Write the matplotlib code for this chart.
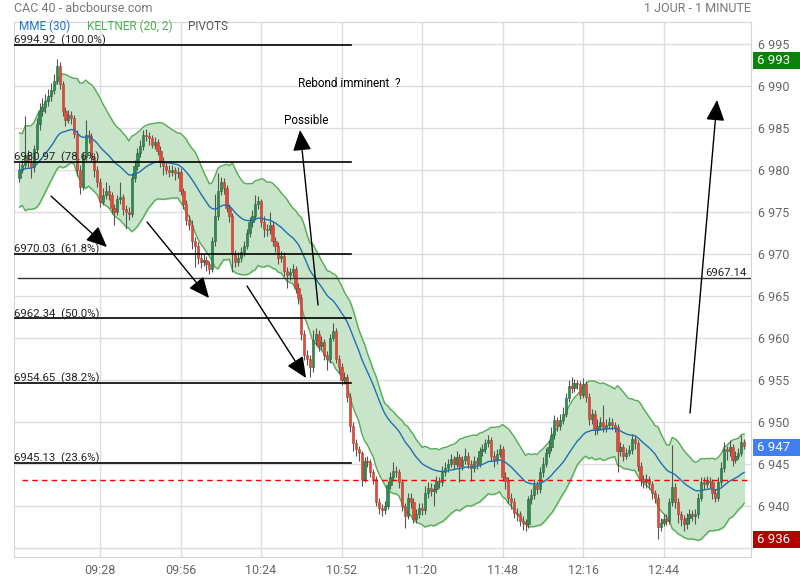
import numpy as np
import pandas as pd
import matplotlib.pyplot as plt
from matplotlib.patches import Rectangle
import matplotlib.transforms as mtransforms

plt.rcParams['font.family'] = ['Roboto', 'DejaVu Sans']

# 1-minute candles from 09:00 (index = minutes after 09:00)
first_open = 6979.0
close = [
    6980.0, 6980.6, 6981.8, 6981.0, 6980.3, 6982.5, 6985.5, 6987.0, 6987.5, 6988.2,
    6988.8, 6989.5, 6990.6, 6992.4, 6990.2, 6987.0, 6986.0, 6986.5, 6986.2, 6984.3,
    6980.0, 6978.0, 6981.5, 6984.2, 6984.0, 6981.5, 6980.0, 6978.6, 6976.2, 6977.0,
    6977.5, 6977.0, 6975.5, 6975.0, 6976.5, 6976.8, 6975.3, 6975.0, 6974.8, 6979.0,
    6980.5, 6982.0, 6982.8, 6984.2, 6984.0, 6983.8, 6983.0, 6983.3, 6982.3, 6981.0,
    6980.5, 6980.0, 6979.8, 6980.0, 6979.6, 6979.8, 6977.5, 6976.0, 6974.0, 6973.5,
    6971.5, 6971.0, 6969.5, 6969.0, 6969.3, 6968.8, 6968.2, 6971.5, 6974.5, 6977.5,
    6978.6, 6977.9, 6975.5, 6974.5, 6970.0, 6969.0, 6969.5, 6970.2, 6971.0, 6972.5,
    6973.8, 6974.5, 6976.0, 6976.3, 6973.8, 6973.0, 6972.8, 6973.5, 6971.5, 6971.0,
    6969.5, 6969.8, 6968.0, 6967.5, 6967.8, 6968.2, 6966.0, 6964.8, 6960.5, 6958.0,
    6957.5, 6956.5, 6959.8, 6960.5, 6959.0, 6959.5, 6958.0, 6957.5, 6960.0, 6960.8,
    6957.5, 6956.5, 6955.0, 6955.3, 6953.0, 6949.5, 6947.5, 6946.8, 6946.3, 6943.2,
    6945.3, 6945.2, 6944.0, 6943.2, 6940.5, 6939.8, 6939.5, 6940.0, 6942.5, 6943.5,
    6944.2, 6944.0, 6942.8, 6940.0, 6938.8, 6941.0, 6940.5, 6938.5, 6939.0, 6939.8,
    6939.5, 6941.5, 6942.2, 6941.8, 6942.0, 6943.0, 6942.8, 6944.0, 6944.5, 6945.0,
    6945.6, 6945.0, 6945.8, 6944.8, 6945.5, 6946.0, 6945.0, 6944.5, 6945.3, 6945.0,
    6946.5, 6946.8, 6947.5, 6947.8, 6946.0, 6945.5, 6946.2, 6946.8, 6943.5, 6943.0,
    6941.0, 6940.5, 6939.2, 6939.0, 6938.2, 6938.0, 6937.8, 6940.8, 6941.3, 6942.5,
    6942.0, 6944.0, 6945.0, 6946.3, 6947.0, 6948.5, 6950.2, 6949.5, 6950.2, 6951.0,
    6952.8, 6954.3, 6954.0, 6954.6, 6954.5, 6953.2, 6954.5, 6953.0, 6950.3, 6951.0,
    6949.0, 6949.5, 6950.0, 6949.3, 6949.7, 6950.0, 6949.6, 6949.4, 6946.5, 6947.0,
    6946.0, 6946.3, 6946.7, 6948.0, 6947.5, 6944.8, 6943.2, 6942.8, 6943.2, 6942.6,
    6941.5, 6941.0, 6937.5, 6938.0, 6938.5, 6938.2, 6940.5, 6942.3, 6940.5, 6939.0,
    6938.5, 6937.8, 6938.6, 6939.0, 6938.8, 6939.0, 6941.0, 6942.8, 6942.6, 6943.0,
    6942.8, 6941.5, 6941.0, 6942.8, 6944.5, 6946.8, 6946.5, 6947.0, 6945.5, 6946.0,
    6946.3, 6947.6, 6947.2,
]
high = [
    6980.8, 6981.2, 6986.4, 6982.4, 6981.6, 6983.0, 6986.2, 6988.0, 6988.6, 6989.0,
    6989.6, 6990.4, 6991.4, 6993.2, 6992.8, 6990.6, 6987.5, 6987.2, 6987.0, 6986.6,
    6984.8, 6980.6, 6982.2, 6985.9, 6984.8, 6984.4, 6982.0, 6980.5, 6979.0, 6977.8,
    6978.6, 6978.2, 6977.4, 6976.0, 6977.0, 6978.6, 6977.2, 6975.8, 6975.6, 6979.6,
    6981.2, 6982.6, 6983.6, 6984.8, 6984.9, 6984.5, 6984.2, 6983.9, 6983.7, 6982.8,
    6981.5, 6981.0, 6980.6, 6980.6, 6980.4, 6980.4, 6980.2, 6977.9, 6976.4, 6974.6,
    6974.0, 6972.0, 6971.4, 6970.0, 6970.0, 6969.8, 6969.2, 6972.0, 6977.2, 6979.6,
    6979.2, 6979.0, 6978.2, 6976.0, 6974.9, 6970.5, 6970.2, 6970.8, 6971.6, 6973.0,
    6974.4, 6975.2, 6977.0, 6976.9, 6976.6, 6974.5, 6973.6, 6975.0, 6973.9, 6972.0,
    6971.4, 6970.4, 6970.2, 6968.5, 6968.3, 6968.8, 6968.6, 6966.5, 6965.2, 6961.0,
    6958.6, 6958.0, 6961.0, 6961.2, 6960.9, 6960.2, 6959.9, 6958.5, 6960.5, 6961.8,
    6961.2, 6958.0, 6957.0, 6955.9, 6955.7, 6953.4, 6950.0, 6948.0, 6947.2, 6946.6,
    6945.8, 6945.9, 6945.6, 6944.4, 6943.6, 6941.0, 6940.2, 6940.6, 6943.0, 6944.0,
    6945.2, 6944.8, 6944.4, 6943.2, 6940.4, 6941.6, 6941.5, 6940.9, 6939.6, 6940.4,
    6940.3, 6942.4, 6942.8, 6942.7, 6942.6, 6943.6, 6943.5, 6944.8, 6945.2, 6945.6,
    6946.2, 6946.0, 6946.6, 6946.2, 6946.0, 6946.9, 6946.4, 6945.5, 6945.9, 6945.8,
    6947.0, 6947.4, 6948.0, 6948.5, 6948.2, 6946.5, 6946.8, 6947.4, 6947.2, 6944.0,
    6943.4, 6941.5, 6940.9, 6939.8, 6939.4, 6938.8, 6938.5, 6941.2, 6942.0, 6943.2,
    6943.0, 6944.6, 6945.8, 6946.9, 6947.8, 6949.4, 6950.8, 6950.6, 6950.9, 6951.8,
    6953.5, 6955.0, 6955.3, 6955.1, 6955.0, 6954.9, 6955.2, 6954.9, 6953.4, 6951.6,
    6951.4, 6950.4, 6950.6, 6952.0, 6950.3, 6950.6, 6950.5, 6950.0, 6949.8, 6947.6,
    6947.4, 6946.9, 6947.3, 6948.6, 6948.4, 6947.9, 6945.2, 6943.7, 6943.8, 6943.6,
    6943.0, 6941.9, 6941.4, 6938.6, 6939.1, 6939.0, 6941.0, 6947.3, 6942.7, 6940.9,
    6939.4, 6938.9, 6939.2, 6939.6, 6939.5, 6939.6, 6941.6, 6943.4, 6943.4, 6943.6,
    6943.5, 6943.2, 6942.0, 6943.4, 6945.2, 6947.6, 6947.2, 6947.8, 6947.4, 6946.6,
    6946.9, 6948.4, 6948.0,
]
low = [
    6978.6, 6979.6, 6980.2, 6980.4, 6979.0, 6979.8, 6982.0, 6984.8, 6986.4, 6986.8,
    6987.6, 6988.2, 6989.0, 6990.2, 6989.6, 6986.4, 6985.2, 6985.6, 6985.5, 6983.8,
    6979.3, 6977.2, 6977.6, 6981.0, 6983.2, 6981.0, 6979.2, 6978.0, 6975.6, 6975.8,
    6976.5, 6976.4, 6974.8, 6973.5, 6974.6, 6976.0, 6974.6, 6973.0, 6974.0, 6974.4,
    6978.6, 6980.0, 6981.5, 6982.4, 6983.4, 6983.0, 6982.6, 6982.5, 6981.8, 6980.4,
    6979.4, 6979.5, 6979.2, 6979.3, 6978.8, 6979.1, 6977.0, 6975.4, 6973.4, 6972.8,
    6970.6, 6968.4, 6968.8, 6968.3, 6968.6, 6968.0, 6967.6, 6967.8, 6971.0, 6974.0,
    6977.0, 6977.2, 6975.0, 6973.8, 6967.9, 6968.4, 6968.6, 6969.0, 6969.8, 6970.6,
    6972.0, 6973.2, 6974.0, 6975.4, 6973.2, 6972.0, 6972.2, 6972.4, 6971.0, 6970.2,
    6968.8, 6969.0, 6967.4, 6966.0, 6966.9, 6967.3, 6965.4, 6964.0, 6959.8, 6957.4,
    6956.8, 6955.3, 6956.0, 6959.2, 6958.4, 6958.6, 6957.4, 6956.2, 6957.0, 6959.6,
    6957.0, 6955.8, 6954.4, 6954.5, 6952.4, 6948.8, 6946.6, 6946.0, 6945.4, 6942.4,
    6942.8, 6944.6, 6943.4, 6942.6, 6940.0, 6939.0, 6938.8, 6939.0, 6939.6, 6942.0,
    6943.0, 6943.4, 6942.2, 6939.4, 6937.4, 6938.4, 6939.8, 6938.0, 6938.0, 6938.6,
    6938.9, 6939.0, 6941.0, 6941.2, 6940.0, 6941.6, 6942.2, 6942.4, 6943.6, 6944.0,
    6944.6, 6944.4, 6944.6, 6942.8, 6944.3, 6945.0, 6944.5, 6943.0, 6944.0, 6944.4,
    6944.6, 6946.0, 6946.3, 6947.0, 6945.4, 6944.6, 6945.0, 6945.8, 6943.0, 6942.0,
    6940.4, 6939.6, 6938.6, 6938.2, 6937.6, 6937.2, 6937.0, 6937.4, 6940.2, 6940.8,
    6941.4, 6941.6, 6943.5, 6944.6, 6945.8, 6946.5, 6948.0, 6948.9, 6949.0, 6949.8,
    6950.6, 6952.4, 6953.4, 6953.6, 6953.9, 6952.7, 6952.8, 6952.4, 6949.6, 6949.8,
    6948.4, 6948.6, 6949.0, 6948.8, 6948.8, 6949.2, 6949.0, 6948.8, 6944.0, 6946.0,
    6945.4, 6945.6, 6945.9, 6946.2, 6946.8, 6944.2, 6942.4, 6942.2, 6942.2, 6942.0,
    6940.8, 6940.3, 6936.1, 6937.0, 6937.6, 6937.7, 6937.8, 6940.0, 6939.8, 6938.0,
    6937.6, 6937.0, 6937.3, 6937.8, 6938.2, 6937.8, 6938.6, 6940.6, 6942.0, 6942.1,
    6942.2, 6940.8, 6940.5, 6940.6, 6942.4, 6944.0, 6945.5, 6946.0, 6944.8, 6945.1,
    6945.6, 6945.9, 6946.8,
]

tick_minutes = [28, 56, 84, 112, 140, 168, 196, 224]
tick_labels = ["09:28", "09:56", "10:24", "10:52", "11:20", "11:48", "12:16", "12:44"]
price_ticks = [6935, 6940, 6945, 6950, 6955, 6960, 6965, 6970, 6975, 6980, 6985, 6990, 6995]

fib_levels = [6994.92, 6980.97, 6970.03, 6962.34, 6954.65, 6945.13]
fib_pcts = ["100.0%", "78.6%", "61.8%", "50.0%", "38.2%", "23.6%"]
pivot_level = 6967.14
ref_level = 6943.05
day_high, last_price, day_low = 6993, 6947, 6936

df = pd.DataFrame({"close": close, "high": high, "low": low})
df["open"] = df["close"].shift(1).fillna(first_open)
t = np.arange(len(df))

# indicators
ema30 = df["close"].ewm(span=30, adjust=False).mean()
kc_mid = df["close"].ewm(span=20, adjust=False).mean()
prev_c = df["close"].shift(1).fillna(first_open)
tr = pd.concat([df["high"] - df["low"],
                (df["high"] - prev_c).abs(),
                (df["low"] - prev_c).abs()], axis=1).max(axis=1)
atr = tr.ewm(span=20, adjust=False).mean()
kc_up = kc_mid + 2 * atr
kc_dn = kc_mid - 2 * atr

fig = plt.figure(figsize=(8, 5.8), dpi=100)
ax = fig.add_axes([14 / 800, 1 - 557 / 580, 737 / 800, 535 / 580])

ax.set_xlim(-1.91, 254.4)
ax.set_ylim(6933.93, 6997.62)

# grid
ax.set_yticks(price_ticks)
# lowest label sits under the day-low box
ax.set_yticklabels([""] + [f"{v // 1000} {v % 1000:03d}" for v in price_ticks[1:]])
ax.set_xticks(tick_minutes)
ax.set_xticklabels(tick_labels)
ax.grid(True, color="#dddddd", lw=1)
ax.set_axisbelow(True)
for s in ax.spines.values():
    s.set_color("#d5d5d5")
ax.yaxis.tick_right()
ax.tick_params(axis="both", length=0, colors="#666666", labelsize=9)
ax.tick_params(axis="y", pad=5)
ax.tick_params(axis="x", pad=5)

# keltner band
ax.fill_between(t, kc_dn, kc_up, color="#c9e5c9", zorder=1)
ax.plot(t, kc_up, color="#5aab5a", lw=1, zorder=2)
ax.plot(t, kc_dn, color="#5aab5a", lw=1, zorder=2)

# candles
up = df["close"] >= df["open"]
body_lo = np.minimum(df["open"], df["close"])
body_h = np.maximum((df["close"] - df["open"]).abs(), 0.12)
ax.vlines(t, df["low"], df["high"], color="#555555", lw=0.8, zorder=3)
ax.bar(t[up], body_h[up], bottom=body_lo[up], width=0.78,
       color="#2e8b4e", edgecolor="#22683a", lw=0.4, zorder=4)
ax.bar(t[~up], body_h[~up], bottom=body_lo[~up], width=0.78,
       color="#e8443a", edgecolor="#a8442e", lw=0.4, zorder=4)

ax.plot(t, ema30, color="#1f6fb5", lw=1, zorder=5)

# fibonacci retracement
for lvl, pct in zip(fib_levels, fib_pcts):
    ax.axhline(lvl, xmin=0, xmax=0.457, color="black", lw=1.2, zorder=6)
    ax.text(-1.91, lvl + 0.15, f"{lvl:.2f}  ({pct})", fontsize=8.2,
            color="#222222", va="baseline", ha="left", zorder=7)

ax.axhline(pivot_level, xmin=0.0054, xmax=1, color="#333333", lw=1, zorder=6)
ax.text(252.8, pivot_level + 0.3, f"{pivot_level:.2f}", fontsize=8.2,
        color="#222222", ha="right", va="baseline", zorder=7)
ax.axhline(ref_level, xmin=0.011, xmax=1, color="red", lw=1,
           dashes=(4, 3), zorder=6)

# hand drawn arrows
arrows = [((10.96, 6976.90), (30.43, 6970.83)),
          ((44.35, 6973.81), (65.91, 6964.76)),
          ((79.13, 6966.19), (99.65, 6955.24)),
          ((103.83, 6963.93), (97.57, 6984.76)),
          ((233.2, 6951.07), (242.6, 6988.33))]
for start, end in arrows:
    ax.annotate("", xy=end, xytext=start, zorder=8,
                arrowprops=dict(arrowstyle="-|>,head_length=0.85,head_width=0.38",
                                color="black", lw=1, mutation_scale=15,
                                shrinkA=0, shrinkB=0))
ax.text(96.9, 6990.24, "Rebond imminent  ?", fontsize=8.5, va="center", zorder=8)
ax.text(92.0, 6985.95, "Possible", fontsize=8.5, va="center", zorder=8)

# price boxes on the right
bt = mtransforms.blended_transform_factory(ax.transAxes, ax.transData)
for val, col in [(day_high, "#0b830b"), (last_price, "#3f7ff2"), (day_low, "#b30000")]:
    ax.add_patch(Rectangle((1.0027, val - 1.0), 0.07, 2.0, transform=bt,
                           facecolor=col, edgecolor="none", clip_on=False, zorder=10))
    ax.text(1.0085, val, f"{val // 1000} {val % 1000:03d}", transform=bt,
            color="white", fontsize=9.5, va="center", ha="left", zorder=11)

# header and legend
fig.text(14 / 800, 1 - 8 / 580, "CAC 40 - abcbourse.com", color="#777777",
         fontsize=9, va="center", ha="left")
fig.text(751 / 800, 1 - 8 / 580, "1 JOUR - 1 MINUTE", color="#777777",
         fontsize=9, va="center", ha="right")
fig.text(19 / 800, 1 - 26.5 / 580, "MME (30)", color="#1f74c9", fontsize=8.5, va="center")
fig.text(87 / 800, 1 - 26.5 / 580, "KELTNER (20, 2)", color="#4caf50", fontsize=8.5, va="center")
fig.text(188 / 800, 1 - 26.5 / 580, "PIVOTS", color="#555555", fontsize=8.5, va="center")

fig.savefig("out.png", dpi=100)
